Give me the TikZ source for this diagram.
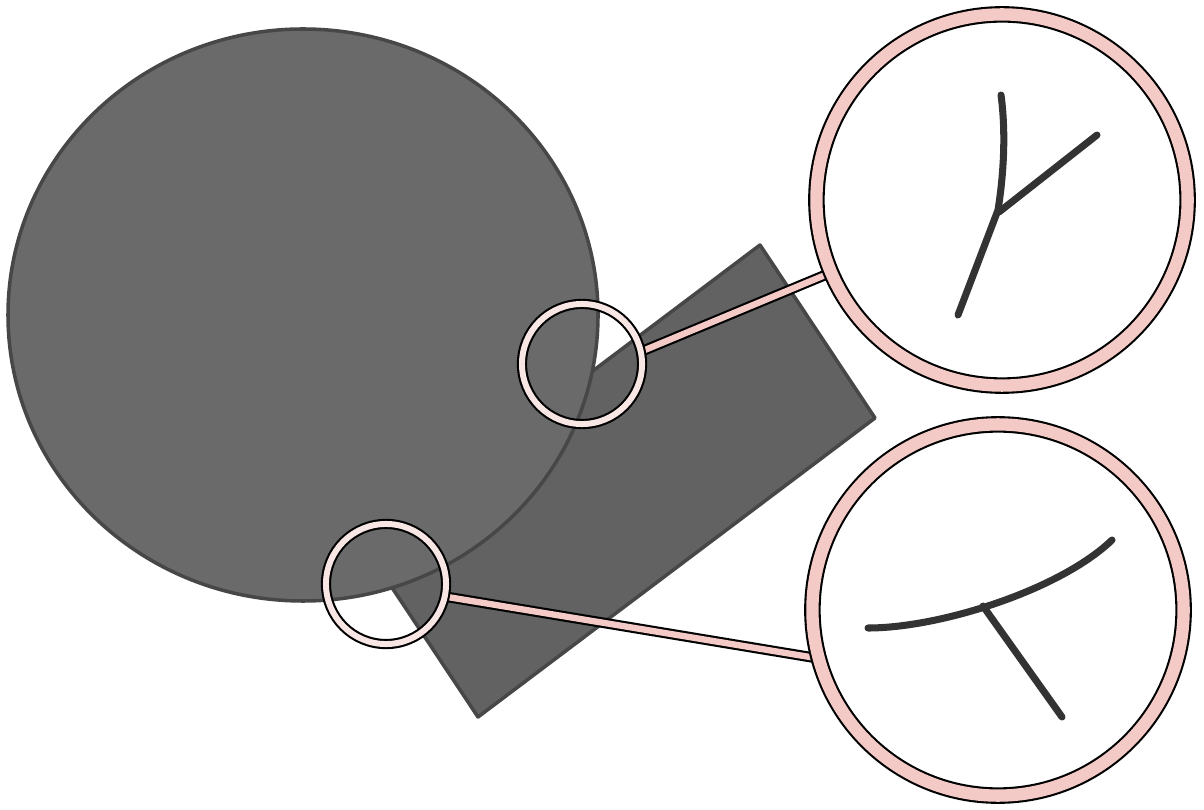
\documentclass[tikz,border=0pt]{standalone}
\usepackage{tikz}
\usetikzlibrary{backgrounds}

\definecolor{diskgray}{HTML}{6A6A6A}
\definecolor{slabgray}{HTML}{626262}
\definecolor{edgegray}{HTML}{474747}
\definecolor{ringpink}{HTML}{F4CAC6}
\definecolor{lenspink}{HTML}{F8E6E4}
\definecolor{inkgray}{HTML}{333333}

\begin{document}
\begin{tikzpicture}[
			x=0.01cm, y=-0.01cm,
			greyshape/.style={draw=edgegray, line width=1pt, line join=round},
			lens/.style={circle, draw=black, line width=0.6pt, double=lenspink, double distance=1.7pt, minimum size=1.2cm, inner sep=0pt},
			zoomview/.style={circle, draw=black, line width=0.6pt, double=ringpink, double distance=3.5pt, minimum size=3.71cm, inner sep=0pt},
			bar/.style={draw=black, line width=0.6pt, double=ringpink, double distance=1.8pt},
			stroke/.style={draw=inkgray, line width=2pt, line cap=round}
			]
			\useasboundingbox (0,0) rectangle (1204,810);
			
			% Scene: slab behind the disk
			\begin{scope}[on background layer]
				\fill[white] (0,0) rectangle (1204,810);
				\path[greyshape, fill=slabgray] (760,245) -- (875,418) -- (478,717) -- (363,544) -- cycle;
				\path[greyshape, fill=diskgray] (303,315) ellipse [x radius=295, y radius=286];
			\end{scope}
			
			% Magnifier nodes
			\node (lensY) [lens] at (582,364) {};
			\node (lensT) [lens] at (386,584) {};
			\node (viewY) [zoomview] at (1002,200) {};
			\node (viewT) [zoomview] at (998,610) {};
			
			% Connectors
			\begin{scope}[on background layer]
				\draw [bar] (lensY.12) -- (viewY.203);
				\draw [bar] (lensT.-12) -- (viewT.195);
			\end{scope}
			
			% Y junction
			\draw [stroke] (1001,95) .. controls (1007,140) and (1002,185) .. (998,210) -- (958,315);
			\draw [stroke] (999,212) -- (1097,135);
			
			% T junction
			\draw [stroke] (868,628) .. controls (940,628) and (1060,590) .. (1112,540);
			\draw [stroke] (983,606) -- (1062,717);
		\end{tikzpicture}
\end{document}
